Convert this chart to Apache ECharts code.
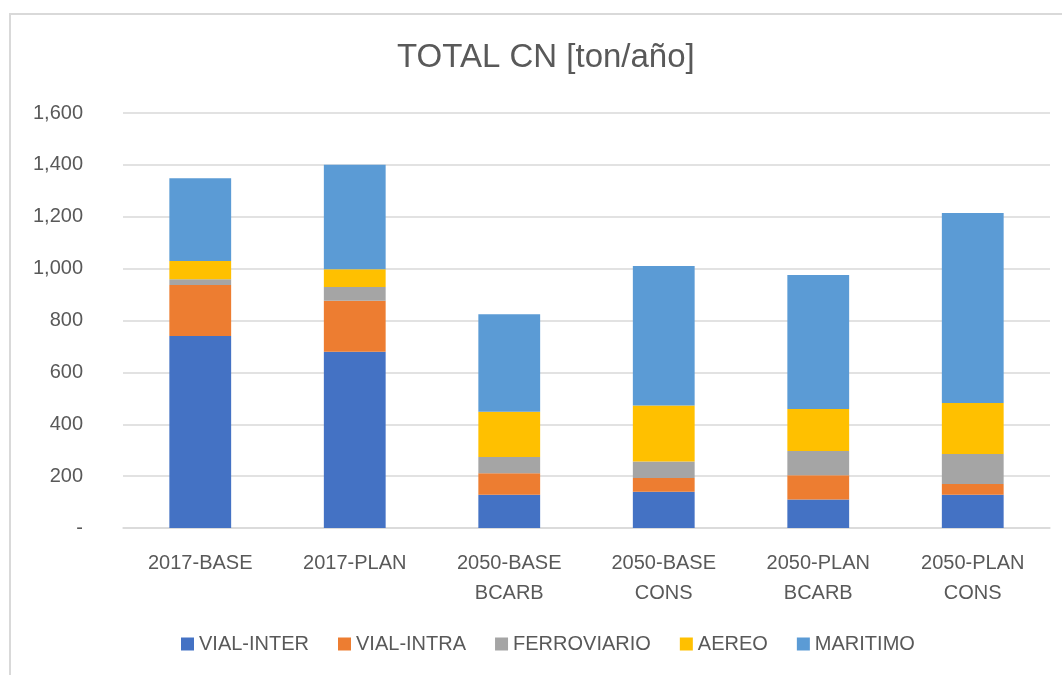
<!DOCTYPE html>
<html>
<head>
<meta charset="utf-8">
<script src="https://cdn.jsdelivr.net/npm/echarts@6/dist/echarts.min.js"></script>
<style>
  html, body { margin: 0; padding: 0; background: #fff; overflow: hidden; }
  #chart { width: 1062px; height: 675px; }
</style>
</head>
<body>
<div id="chart"></div>
<script>
// Scenario categories (two-line labels)
const categories = ['2017-BASE', '2017-PLAN', '2050-BASE\nBCARB', '2050-BASE\nCONS', '2050-PLAN\nBCARB', '2050-PLAN\nCONS'];

// Emissions by transport mode [ton/año]
const vialInter   = [740, 680, 128, 140, 110, 128];
const vialIntra   = [197, 196,  83,  53,  93,  42];
const ferroviario = [ 22,  53,  63,  63,  94, 115];
const aereo       = [ 70,  69, 174, 216, 162, 197];
const maritimo    = [319, 402, 376, 538, 516, 732];

const seriesNames  = ['VIAL-INTER', 'VIAL-INTRA', 'FERROVIARIO', 'AEREO', 'MARITIMO'];
const seriesValues = [vialInter, vialIntra, ferroviario, aereo, maritimo];
const seriesColors = ['#4472C4', '#ED7D31', '#A5A5A5', '#FFC000', '#5B9BD5'];

const textColor = '#595959';
const fontFamily = '"Liberation Sans", Arial, sans-serif';

const chart = echarts.init(document.getElementById('chart'), null, { renderer: 'canvas' });

chart.setOption({
  animation: false,
  backgroundColor: '#ffffff',
  textStyle: { fontFamily: fontFamily, color: textColor },
  title: {
    text: 'TOTAL CN [ton/año]',
    left: 392,
    top: 36,
    textStyle: { fontFamily: fontFamily, fontSize: 33, fontWeight: 'normal', color: textColor }
  },
  graphic: [{
    type: 'rect',
    silent: true,
    shape: { x: 10, y: 14, width: 1100, height: 700 },
    style: { fill: 'none', stroke: '#d9d9d9', lineWidth: 2 }
  }],
  legend: {
    data: seriesNames,
    left: 176,
    top: 629,
    itemWidth: 13,
    itemHeight: 13,
    itemGap: 29,
    icon: 'rect',
    textStyle: { fontFamily: fontFamily, fontSize: 20, color: textColor }
  },
  grid: { left: 123, right: 12, top: 113, bottom: 147, containLabel: false },
  xAxis: {
    type: 'category',
    data: categories,
    axisTick: { show: false },
    axisLine: { show: true, lineStyle: { color: '#d9d9d9', width: 1.5 } },
    axisLabel: {
      fontFamily: fontFamily, fontSize: 20, color: textColor,
      lineHeight: 30, margin: 20, interval: 0
    }
  },
  yAxis: {
    type: 'value',
    min: 0,
    max: 1600,
    interval: 200,
    axisLine: { show: false },
    axisTick: { show: false },
    splitLine: { lineStyle: { color: '#d9d9d9', width: 1.5 } },
    axisLabel: {
      fontFamily: fontFamily, fontSize: 20, color: textColor, margin: 40,
      formatter: v => v === 0 ? '-' : v.toLocaleString('en-US')
    }
  },
  series: seriesNames.map((name, i) => ({
    name: name,
    type: 'bar',
    stack: 'total',
    barWidth: '40%',
    data: seriesValues[i],
    itemStyle: { color: seriesColors[i] }
  }))
});
</script>
</body>
</html>
